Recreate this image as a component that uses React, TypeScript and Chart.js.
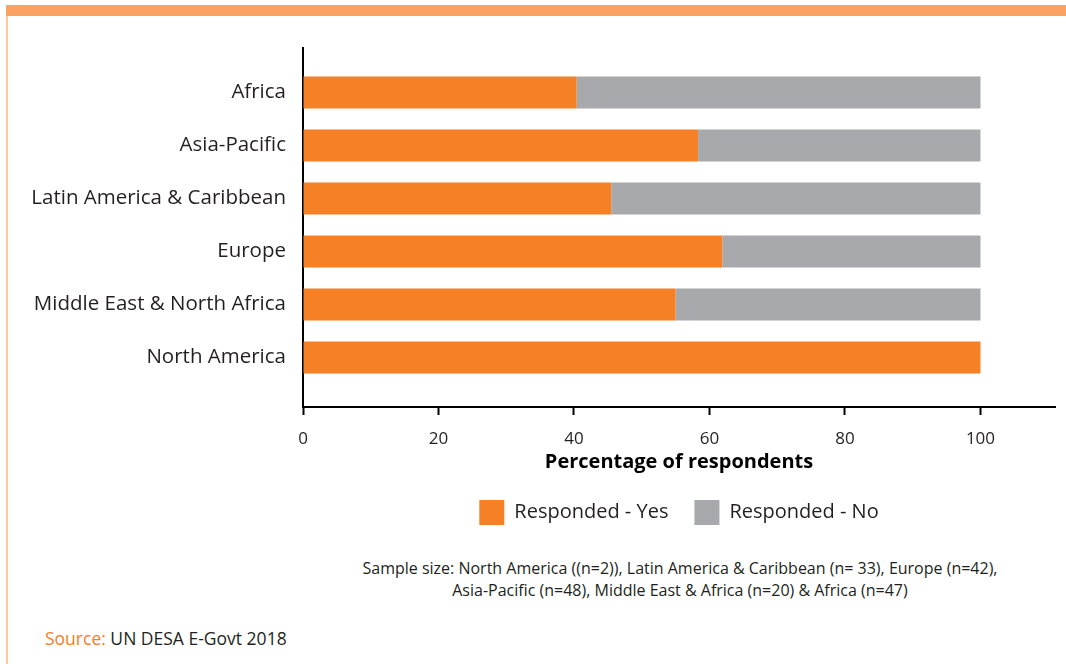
import React, { useEffect, useRef } from "react";
import { Chart, registerables } from "chart.js";

Chart.register(...registerables);

const categories = [
  "Africa",
  "Asia-Pacific",
  "Latin America & Caribbean",
  "Europe",
  "Middle East & North Africa",
  "North America",
];
const yesValues = [40.4, 58.3, 45.5, 61.9, 55.0, 100];
const noValues = [59.6, 41.7, 54.5, 38.1, 45.0, 0];
const xTickValues = [0, 20, 40, 60, 80, 100];
const seriesLabels = ["Responded - Yes", "Responded - No"];
const xTitle = "Percentage of respondents";
const sampleLine1 =
  "Sample size: North America ((n=2)), Latin America & Caribbean (n= 33), Europe (n=42),";
const sampleLine2 =
  "Asia-Pacific (n=48), Middle East & Africa (n=20) & Africa (n=47)";

const FONT = "'Open Sans', 'Noto Sans', sans-serif";
const TEXT = "#231F20";
const ORANGE = "#F58025";
const GRAY = "#A7A9AC";

export default function App() {
  const canvasRef = useRef<HTMLCanvasElement | null>(null);

  useEffect(() => {
    document.body.style.margin = "0";
    const canvas = canvasRef.current;
    if (!canvas) return;
    const chart = new Chart(canvas, {
      type: "bar",
      data: {
        datasets: [
          {
            label: seriesLabels[0],
            data: categories.map((_, i) => ({ x: yesValues[i], y: i })),
            backgroundColor: ORANGE,
            borderWidth: 0,
            barPercentage: 0.6,
            categoryPercentage: 1,
          },
          {
            label: seriesLabels[1],
            data: categories.map((_, i) => ({ x: noValues[i], y: i })),
            backgroundColor: GRAY,
            borderWidth: 0,
            barPercentage: 0.6,
            categoryPercentage: 1,
          },
        ],
      },
      options: {
        indexAxis: "y",
        animation: false,
        responsive: false,
        maintainAspectRatio: false,
        layout: { padding: { top: 48, right: 11, left: 0, bottom: 0 } },
        scales: {
          x: {
            type: "linear",
            stacked: true,
            min: 0,
            max: 111,
            afterBuildTicks: (s: any) => {
              s.ticks = xTickValues.map((v) => ({ value: v }));
            },
            afterFit: (s: any) => {
              s.height = 67;
            },
            grid: {
              drawOnChartArea: false,
              drawTicks: true,
              tickLength: 8,
              tickWidth: 2,
              tickColor: "#000",
            },
            border: { color: "#000", width: 2 },
            ticks: {
              font: { family: FONT, size: 17 },
              color: TEXT,
              padding: 14,
              maxRotation: 0,
            },
            title: {
              display: true,
              text: xTitle,
              color: "#000",
              font: { family: FONT, size: 20, weight: "bold" },
              padding: { top: 0, bottom: 0 },
            },
          },
          y: {
            type: "linear",
            stacked: true,
            reverse: true,
            offset: false,
            min: -0.84,
            max: 5.934,
            afterBuildTicks: (s: any) => {
              s.ticks = categories.map((_, i) => ({ value: i }));
            },
            afterFit: (s: any) => {
              s.width = 303;
            },
            grid: { drawOnChartArea: false, drawTicks: false, offset: false },
            border: { color: "#000", width: 2 },
            ticks: {
              callback: (v: any) => categories[v as number] ?? "",
              font: { family: FONT, size: 20.5 },
              color: TEXT,
              padding: 17,
            },
          },
        },
        plugins: {
          legend: {
            position: "bottom",
            fullSize: false,
            labels: {
              boxWidth: 25,
              boxHeight: 25,
              padding: 26,
              color: TEXT,
              font: { family: FONT, size: 20 },
            },
          },
          tooltip: { enabled: false },
        },
      },
    });
    return () => chart.destroy();
  }, []);

  return (
    <div
      style={{
        position: "relative",
        width: 1066,
        height: 664,
        background: "#fff",
        overflow: "hidden",
        fontFamily: FONT,
      }}
    >
      <div
        style={{
          position: "absolute",
          left: 6,
          top: 5,
          width: 1060,
          height: 11,
          background: "#F9A262",
        }}
      />
      <div
        style={{
          position: "absolute",
          left: 6,
          top: 16,
          width: 2,
          height: 648,
          background: "#FCC89C",
        }}
      />
      <canvas
        ref={canvasRef}
        width={1066}
        height={535}
        style={{ position: "absolute", left: 0, top: 0, width: 1066, height: 535 }}
      />
      <div
        style={{
          position: "absolute",
          left: 280,
          width: 800,
          top: 557,
          textAlign: "center",
          fontSize: 16,
          lineHeight: "22px",
          color: TEXT,
        }}
      >
        <div>{sampleLine1}</div>
        <div>{sampleLine2}</div>
      </div>
      <div
        style={{
          position: "absolute",
          left: 45,
          top: 626,
          fontSize: 17.5,
          lineHeight: "24px",
          color: TEXT,
          whiteSpace: "nowrap",
        }}
      >
        <span style={{ color: "#F58025" }}>Source:</span> UN DESA E-Govt 2018
      </div>
    </div>
  );
}
